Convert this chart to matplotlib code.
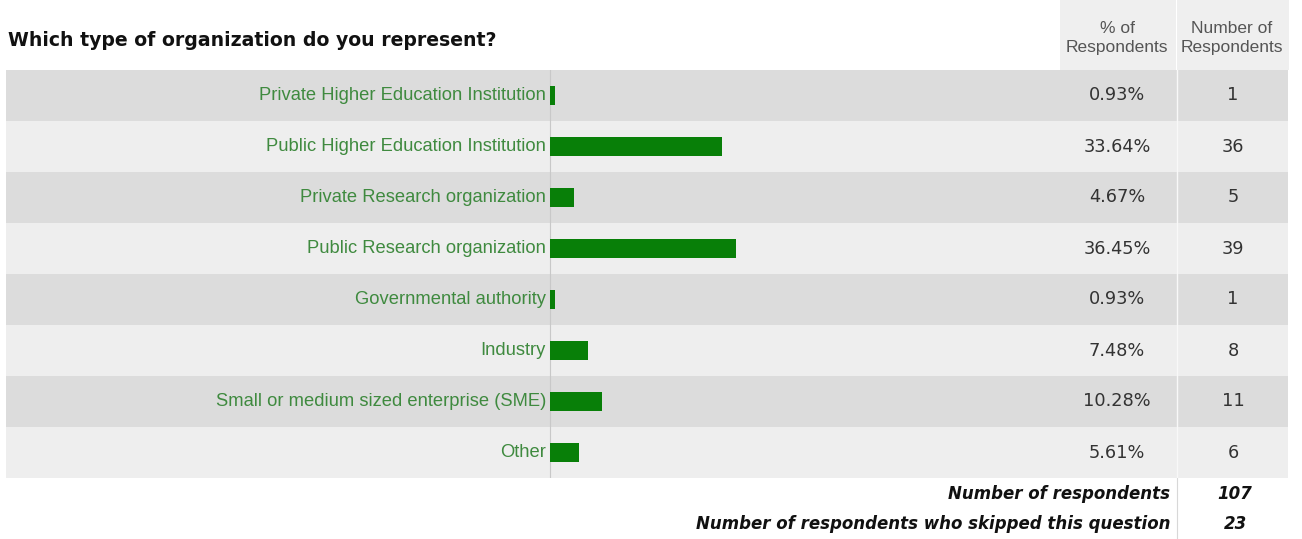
import matplotlib
matplotlib.use("Agg")
import matplotlib.pyplot as plt
import matplotlib.transforms as mtransforms
from matplotlib.patches import Rectangle

title = "Which type of organization do you represent?"
categories = [
    "Private Higher Education Institution",
    "Public Higher Education Institution",
    "Private Research organization",
    "Public Research organization",
    "Governmental authority",
    "Industry",
    "Small or medium sized enterprise (SME)",
    "Other",
]
percents = [0.93, 33.64, 4.67, 36.45, 0.93, 7.48, 10.28, 5.61]
counts = [1, 36, 5, 39, 1, 8, 11, 6]
header_pct = "% of\nRespondents"
header_num = "Number of\nRespondents"
footer_labels = ["Number of respondents", "Number of respondents who skipped this question"]
footer_values = [107, 23]

W, H = 1302, 539
fig = plt.figure(figsize=(W / 100, H / 100), dpi=100)
fig.patch.set_facecolor("white")

# overlay axes in pixel coordinates for decorations
ov = fig.add_axes([0, 0, 1, 1])
ov.set_xlim(0, W)
ov.set_ylim(H, 0)
ov.axis("off")

label_font = ["Liberation Sans", "DejaVu Sans"]

# header cells
ov.add_patch(Rectangle((1060, 0), 116, 70, facecolor="#efefef", edgecolor="none"))
ov.add_patch(Rectangle((1177, 0), 112, 70, facecolor="#efefef", edgecolor="none"))
ov.text(1117, 38, header_pct, ha="center", va="center", fontsize=12.5, color="#555555",
        family=label_font, linespacing=1.3)
ov.text(1232, 38, header_num, ha="center", va="center", fontsize=12.5, color="#555555",
        family=label_font, linespacing=1.3)
ov.text(8, 40, title, ha="left", va="center", fontsize=13.6, fontweight="bold", color="#111111",
        family="DejaVu Sans")

# row/bar axes
left_px, right_px, top_px, bot_px = 6, 1288, 70, 478
ax = fig.add_axes([left_px / W, 1 - bot_px / H, (right_px - left_px) / W, (bot_px - top_px) / H])
ppp = 5.1  # pixels per percent
x0 = 550
ax.set_xlim(-(x0 - left_px) / ppp, (right_px - x0) / ppp)
n = len(categories)
ax.set_ylim(n - 0.5, -0.5)
ax.axis("off")

for i in range(n):
    ax.axhspan(i - 0.5, i + 0.5, facecolor="#dcdcdc" if i % 2 == 0 else "#eeeeee",
               edgecolor="none", zorder=0)

ax.barh(range(n), percents, height=0.36, left=0, color="#087f08", zorder=3)
ax.axvline(0, color="#c8c8c8", lw=0.8, zorder=2)

trans = mtransforms.blended_transform_factory(ax.transAxes, ax.transData)
pct_x = (1117 - left_px) / (right_px - left_px)
num_x = (1233 - left_px) / (right_px - left_px)
sep_x = (1176.5 - left_px) / (right_px - left_px)
ax.plot([sep_x, sep_x], [-0.5, n - 0.5], transform=trans, color="#f8f8f8", lw=1, zorder=1)

for i, (c, p, k) in enumerate(zip(categories, percents, counts)):
    ax.text(-0.8, i, c, ha="right", va="center", fontsize=13.2, color="#3f8a3f",
            family=label_font, zorder=4)
    ax.text(pct_x, i, f"{p:.2f}%", transform=trans, ha="center", va="center",
            fontsize=12.8, color="#333333", family="DejaVu Sans")
    ax.text(num_x, i, f"{k}", transform=trans, ha="center", va="center",
            fontsize=12.8, color="#333333", family="DejaVu Sans")

# footer
ov.plot([1176.5, 1176.5], [478, H], color="#d8d8d8", lw=0.8)
for j, (lab, val) in enumerate(zip(footer_labels, footer_values)):
    y = 494 + j * 30
    ov.text(1170, y, lab, ha="right", va="center", fontsize=12, fontweight="bold",
            style="italic", color="#111111", family="DejaVu Sans")
    ov.text(1235, y, str(val), ha="center", va="center", fontsize=12, fontweight="bold",
            style="italic", color="#111111", family="DejaVu Sans")

fig.savefig("out.png", dpi=100, facecolor="white")
